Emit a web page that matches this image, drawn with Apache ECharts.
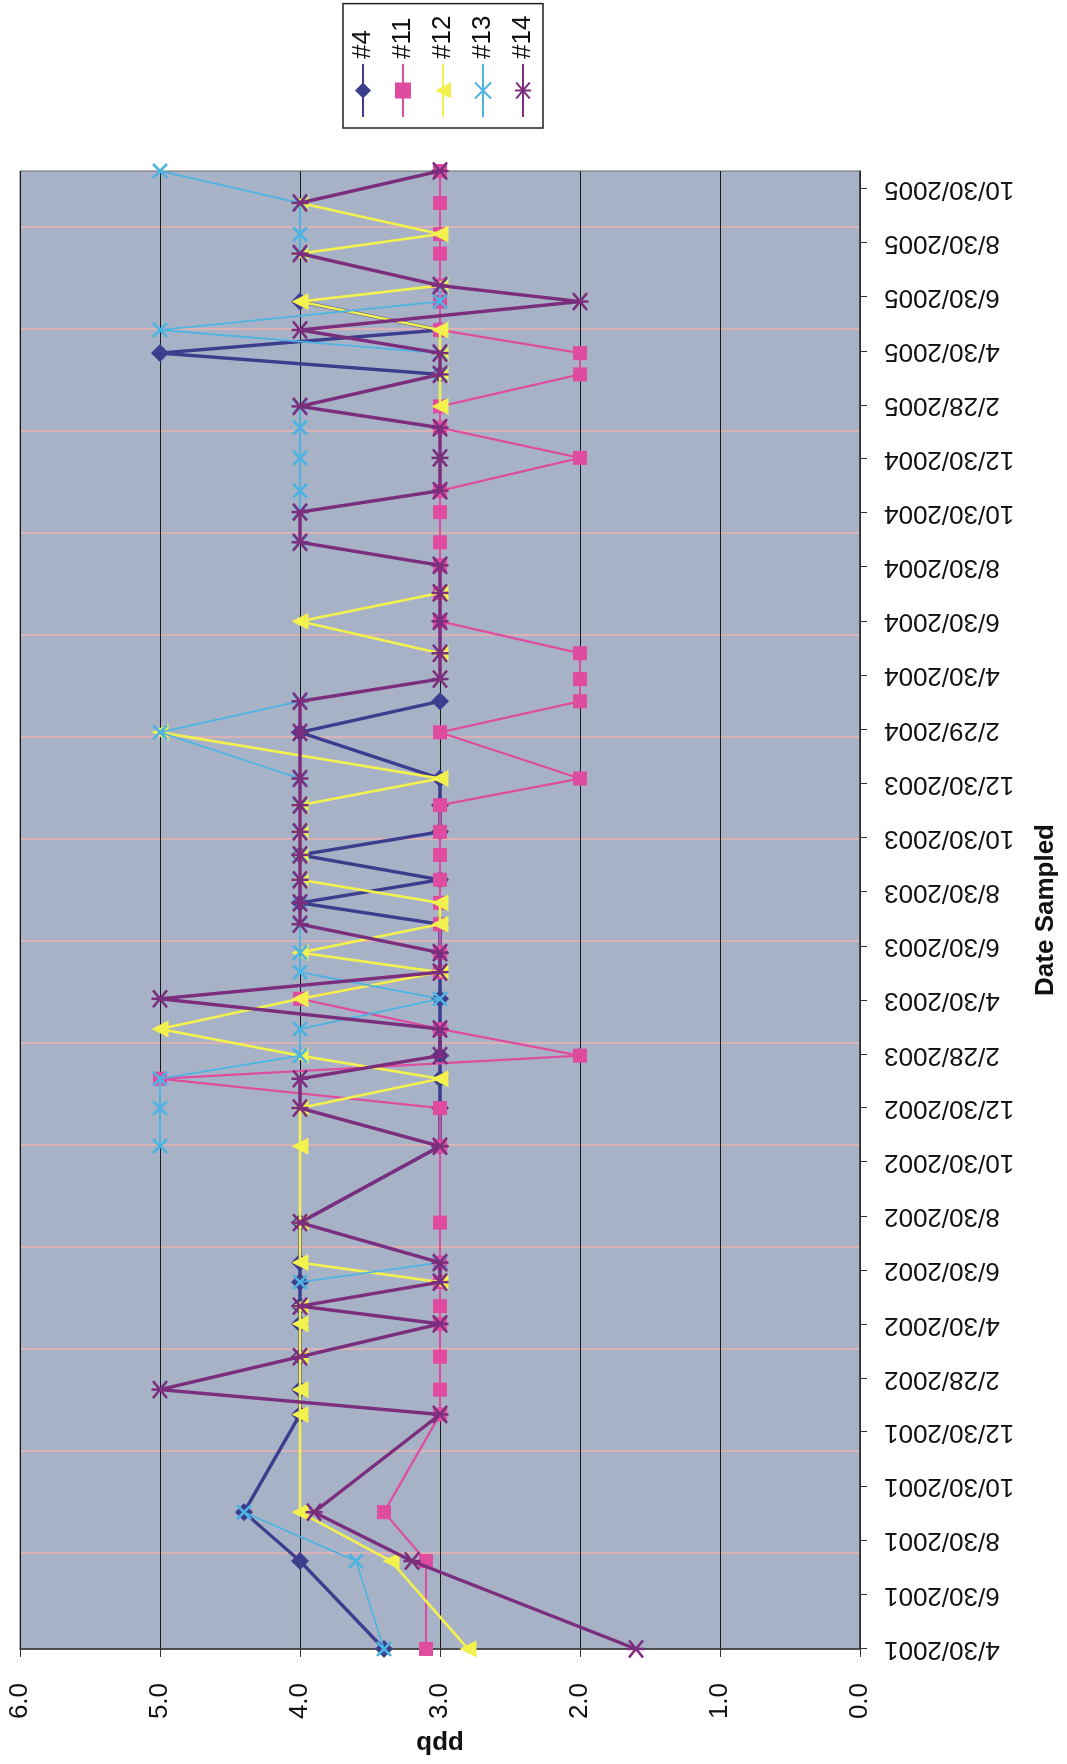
<!DOCTYPE html>
<html>
<head>
<meta charset="utf-8">
<script src="https://cdn.jsdelivr.net/npm/echarts@6/dist/echarts.min.js"></script>
<style>
  html, body { margin: 0; padding: 0; background: #fff; }
  #page { position: relative; width: 1067px; height: 1764px; overflow: hidden; background: #fff; }
  /* the chart is laid out landscape and turned a quarter turn counter-clockwise */
  #chart { position: absolute; left: 0; top: 0; width: 1764px; height: 1067px;
           transform-origin: 0 0; transform: translate(0, 1764px) rotate(-90deg); }
</style>
</head>
<body>
<div id="page"><div id="chart"></div></div>
<script>
// sampling dates shared by all five wells
const sampleDates = [
  '2001-04-30','2001-08-07','2001-10-01','2002-01-19','2002-02-16','2002-03-25','2002-05-01','2002-05-21',
  '2002-06-17','2002-07-09','2002-08-23','2002-11-17','2002-12-30','2003-02-01','2003-02-27','2003-03-29',
  '2003-05-02','2003-06-01','2003-06-23','2003-07-25','2003-08-18','2003-09-13','2003-10-11','2003-11-06',
  '2003-12-06','2004-01-05','2004-02-26','2004-04-01','2004-04-26','2004-05-25','2004-06-30','2004-08-01',
  '2004-09-01','2004-09-27','2004-10-31','2004-11-24','2004-12-31','2005-02-03','2005-02-27','2005-04-04',
  '2005-04-28','2005-05-24','2005-06-25','2005-07-13','2005-08-18','2005-09-09','2005-10-14','2005-11-19'
];

// date axis tick labels (every two months)
const tickDates = [
  '2001-04-30','2001-06-30','2001-08-30','2001-10-30','2001-12-30','2002-02-28','2002-04-30',
  '2002-06-30','2002-08-30','2002-10-30','2002-12-30','2003-02-28','2003-04-30','2003-06-30',
  '2003-08-30','2003-10-30','2003-12-30','2004-02-29','2004-04-30','2004-06-30','2004-08-30',
  '2004-10-30','2004-12-30','2005-02-28','2005-04-30','2005-06-30','2005-08-30','2005-10-30'
];

// ppb readings per well (null = not sampled)
const well4 = [3.4,4.0,4.4,4.0,4.0,4.0,4.0,4.0,4.0,4.0, 4.0,3.0,3.0,3.0,3.0,3.0,3.0,3.0,3.0,3.0,
               4.0,3.0,4.0,3.0,3.0,3.0,4.0,3.0,null,null, null,null,null,null,null,null,null,null,null,3.0,
               5.0,3.0,4.0,null,null,null,null,null];
const well11 = [3.1,3.1,3.4,3.0,3.0,3.0,3.0,3.0,3.0,3.0, 3.0,3.0,3.0,5.0,2.0,3.0,4.0,3.0,3.0,3.0,
                3.0,3.0,3.0,3.0,3.0,2.0,3.0,2.0,2.0,2.0, 3.0,3.0,3.0,3.0,3.0,3.0,2.0,3.0,3.0,2.0,
                2.0,3.0,3.0,3.0,3.0,3.0,3.0,3.0];
const well12 = [2.8,3.35,4.0,4.0,4.0,4.0,4.0,4.0,3.0,4.0, 4.0,4.0,4.0,3.0,4.0,5.0,4.0,3.0,4.0,3.0,
                3.0,4.0,4.0,4.0,4.0,3.0,5.0,null,null,3.0, 4.0,3.0,null,null,null,null,null,null,3.0,3.0,
                3.0,3.0,4.0,3.0,4.0,3.0,4.0,null];
const well13 = [3.4,3.6,4.4,null,null,null,null,null,4.0,3.0, null,5.0,5.0,5.0,4.0,4.0,3.0,4.0,4.0,4.0,
                4.0,4.0,4.0,4.0,4.0,4.0,5.0,4.0,null,null, null,null,null,4.0,4.0,4.0,4.0,4.0,4.0,3.0,
                3.0,5.0,3.0,3.0,4.0,4.0,4.0,5.0];
const well14 = [1.6,3.2,3.9,3.0,5.0,4.0,3.0,4.0,3.0,3.0, 4.0,3.0,4.0,4.0,3.0,3.0,5.0,3.0,3.0,4.0,
                4.0,4.0,4.0,4.0,4.0,4.0,4.0,4.0,3.0,3.0, 3.0,3.0,3.0,4.0,4.0,3.0,3.0,3.0,4.0,3.0,
                3.0,4.0,2.0,3.0,4.0,null,4.0,3.0];

const seriesNames = ['#4', '#11', '#12', '#13', '#14'];
const valueTicks = [0, 1, 2, 3, 4, 5, 6];

function toTime(s) {
  const p = s.split('-').map(Number);
  return new Date(p[0], p[1] - 1, p[2]).getTime();
}
function fmtDate(t) {
  const d = new Date(t);
  return (d.getMonth() + 1) + '/' + d.getDate() + '/' + d.getFullYear();
}
const sampleTimes = sampleDates.map(toTime);
const tickTimes = tickDates.map(toTime);
const pairs = vals => vals.map((v, i) => [sampleTimes[i], v]);

// plot-area fill: blue-grey with faint pink banding
function plotTexture() {
  const c = document.createElement('canvas');
  c.width = 102; c.height = 8;
  const g = c.getContext('2d');
  g.fillStyle = '#a8b2c6';
  g.fillRect(0, 0, 102, 8);
  g.fillStyle = 'rgba(236,178,176,0.75)';
  g.fillRect(6, 0, 2, 8);
  return c;
}

const FONT = "'Liberation Sans', Arial, sans-serif";
const xMark = 'path://M0,0L10,10M10,0L0,10';
const starMark = 'path://M0,0L10,10M10,0L0,10M5,-1L5,11';

const styles = [
  { data: well4,  color: '#3d3d8e', width: 3.4, symbol: 'diamond', size: 18 },
  { data: well11, color: '#df4c9f', width: 2.2, symbol: 'rect', size: 14 },
  { data: well12, color: '#f3f14e', width: 2.6, symbol: 'triangle', size: 17 },
  { data: well13, color: '#4cb3e2', width: 1.8, symbol: xMark, size: 14, stroke: true },
  { data: well14, color: '#7b2e7d', width: 3.4, symbol: starMark, size: 17, stroke: true }
];

const chart = echarts.init(document.getElementById('chart'), null, { renderer: 'canvas' });
chart.setOption({
  animation: false,
  backgroundColor: '#ffffff',
  grid: {
    left: 103, top: 20, width: 1490, height: 840,
    show: true,
    backgroundColor: { image: plotTexture(), repeat: 'repeat' },
    borderColor: '#6a6a6a', borderWidth: 1
  },
  legend: {
    orient: 'vertical',
    left: 1636, top: 343,
    data: seriesNames,
    backgroundColor: '#ffffff',
    borderColor: '#222', borderWidth: 1.5, borderRadius: 0,
    padding: [7, 12, 7, 10],
    itemGap: 14, itemWidth: 53, itemHeight: 20,
    textStyle: { fontFamily: FONT, fontSize: 26, color: '#111' }
  },
  xAxis: {
    type: 'value',
    min: sampleTimes[0], max: sampleTimes[sampleTimes.length - 1],
    name: 'Date Sampled', nameLocation: 'middle', nameGap: 173,
    nameTextStyle: { fontFamily: FONT, fontSize: 26, fontWeight: 'bold', color: '#111' },
    axisLine: { show: true, onZero: false, lineStyle: { color: '#333', width: 1.5 } },
    axisTick: { show: true, customValues: tickTimes, length: 7, lineStyle: { color: '#333', width: 1 } },
    axisLabel: {
      customValues: tickTimes, rotate: 90, margin: 24, align: 'right',
      formatter: v => fmtDate(v),
      fontFamily: FONT, fontSize: 26, color: '#111'
    },
    splitLine: { show: false }
  },
  yAxis: {
    type: 'value', min: valueTicks[0], max: valueTicks[valueTicks.length - 1], interval: 1,
    name: 'ppb', nameLocation: 'middle', nameRotate: 90, nameGap: 76,
    nameTextStyle: { fontFamily: FONT, fontSize: 26, fontWeight: 'bold', color: '#111' },
    axisLine: { show: true, onZero: false, lineStyle: { color: '#333', width: 1.5 } },
    axisTick: { show: true, length: 8, lineStyle: { color: '#333', width: 1 } },
    axisLabel: { margin: 34, formatter: v => v.toFixed(1), fontFamily: FONT, fontSize: 26, color: '#111' },
    splitLine: { show: true, lineStyle: { color: '#1a1a1a', width: 1 } }
  },
  series: styles.map((s, i) => ({
    name: seriesNames[i],
    type: 'line',
    data: pairs(s.data),
    connectNulls: false,
    symbol: s.symbol,
    symbolSize: s.size,
    showSymbol: true,
    lineStyle: { color: s.color, width: s.width },
    itemStyle: s.stroke
      ? { color: s.color, borderColor: s.color, borderWidth: 2.5 }
      : { color: s.color, borderWidth: 0 },
    emphasis: { disabled: true },
    z: 2 + i
  }))
});
</script>
</body>
</html>
